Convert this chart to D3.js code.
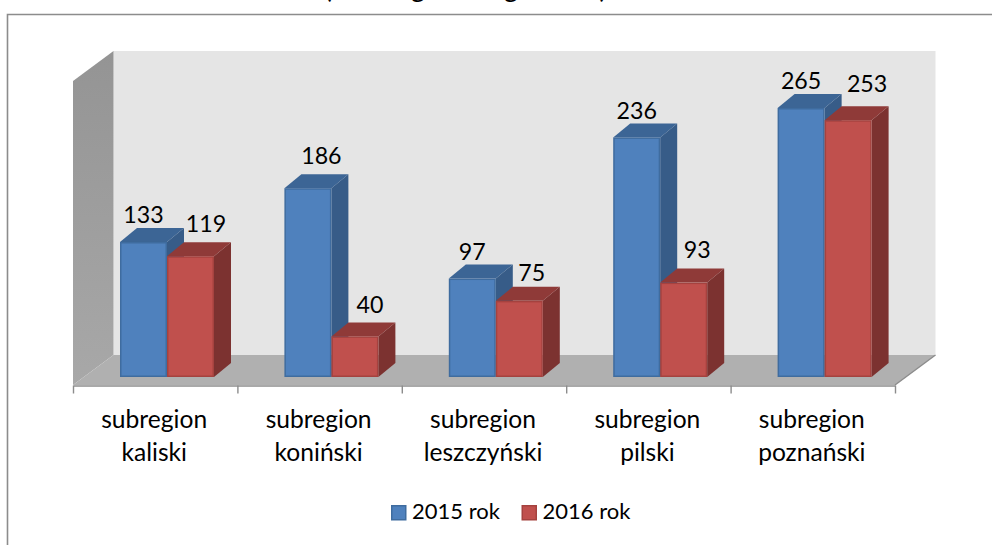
<!DOCTYPE html>
<html><head><meta charset="utf-8">
<script src="https://cdn.jsdelivr.net/npm/d3@7"></script>
<style>html,body{margin:0;padding:0;background:#fff}svg{display:block}text{font-family:Lato,"Open Sans",sans-serif;fill:#000}</style>
</head><body><svg id="c" width="992" height="545"></svg>
<script>
const categories = ["subregion kaliski","subregion koniński","subregion leszczyński","subregion pilski","subregion poznański"];
const seriesNames = ["2015 rok","2016 rok"];
const values2015 = [133,186,97,236,265];
const values2016 = [119,40,75,93,253];
const tickEdges = [0,1,2,3,4,5];

// layout
const W=992,H=545, left=73, right=895, base=377, floorFront=385, depthX=40.5, depthY=30, barDX=17, barDY=14, fs=23.2, catFs=24.6, legFs=22;
const colors={front:["#4f81bd","#c0504d"],top:["#3c6595","#8f3a38"],side:["#375c88","#7c3230"],stroke:["#3f6c9f","#a5423f"]};
const labelDX=[[0,15.5],[13.5,15],[0,12.5],[0,13.5],[0,19]];
const labelUp=[[19,24],[24,23],[19,20],[18,25],[19,28]];

const svg=d3.select("#c");
const x0=d3.scaleBand().domain(categories).range([left,right]);
const x1=d3.scaleBand().domain(seriesNames).range([47,141]);
const y=d3.scaleLinear().domain([0,265]).range([base,108]);
const edge=d3.scaleLinear().domain([0,5]).range([left,right]);
const poly=p=>p.map(d=>d.join(",")).join(" ");

// frame (page cuts the title off at the top)
svg.append("path").attr("d",`M7.5,545V14.5H992`).attr("fill","none").attr("stroke","#8c8c8c").attr("stroke-width",1.6);
[["(",328,-2.5],["g",418,-3.5],["g",511,-3.5],[")",603,-2.5]].forEach(([t,px,py])=>svg.append("text").text(t).attr("x",px).attr("y",py).attr("text-anchor","middle").attr("font-size",27));

// walls
const g0=svg.append("defs").append("linearGradient").attr("id","lw").attr("x1",0).attr("y1",0).attr("x2",0).attr("y2",1);
g0.append("stop").attr("offset",0).attr("stop-color","#949494");
g0.append("stop").attr("offset",1).attr("stop-color","#a8a8a8");
svg.append("rect").attr("x",left+depthX).attr("y",51).attr("width",right-left).attr("height",floorFront-depthY-51).attr("fill","#e5e5e5");
svg.append("polygon").attr("points",poly([[left,81],[left+depthX,51],[left+depthX,floorFront-depthY],[left,floorFront]])).attr("fill","url(#lw)");
svg.append("polygon").attr("points",poly([[left,floorFront],[left+depthX,floorFront-depthY],[right+depthX,floorFront-depthY],[right,floorFront]])).attr("fill","#b0b0b0");
svg.append("path").attr("d",`M${right},${floorFront}L${right+depthX},${floorFront-depthY}`).attr("stroke","#8c8c8c").attr("stroke-width",1.4).attr("fill","none");

// axis
const ax=d3.axisBottom(edge).tickValues(tickEdges).tickFormat("").tickSize(8).tickSizeOuter(0);
const axG=svg.append("g").attr("transform",`translate(0,${floorFront+0.5})`).call(ax);
axG.selectAll("path,line").attr("stroke","#8c8c8c").attr("stroke-width",1.4);

// bars
const series=[values2015,values2016];
categories.forEach((c,i)=>{
  seriesNames.forEach((s,k)=>{
    const v=series[k][i], xa=x0(c)+x1(s), xb=xa+x1.bandwidth(), t=y(v);
    const g=svg.append("g");
    g.append("polygon").attr("points",poly([[xb,t],[xb+barDX,t-barDY],[xb+barDX,base-barDY],[xb,base]])).attr("fill",colors.side[k]);
    g.append("polygon").attr("points",poly([[xa,t],[xa+barDX,t-barDY],[xb+barDX,t-barDY],[xb,t]])).attr("fill",colors.top[k]);
    g.append("rect").attr("x",xa+.75).attr("y",t+.75).attr("width",xb-xa-1.5).attr("height",base-t-1.5).attr("fill",colors.front[k]).attr("stroke",colors.stroke[k]).attr("stroke-width",1.5);
  });
});
// value labels on top
categories.forEach((c,i)=>seriesNames.forEach((s,k)=>{
  const v=series[k][i];
  svg.append("text").text(v).attr("x",x0(c)+x1(s)+x1.bandwidth()/2+labelDX[i][k]).attr("y",y(v)-labelUp[i][k]).attr("text-anchor","middle").attr("font-size",fs);
}));

// category labels
categories.forEach(c=>{
  const [a,b]=c.split(" "), cx=x0(c)+x0.bandwidth()/2-1;
  svg.append("text").text(a).attr("x",cx).attr("y",428).attr("text-anchor","middle").attr("font-size",catFs);
  svg.append("text").text(b).attr("x",cx).attr("y",461).attr("text-anchor","middle").attr("font-size",catFs);
});

// legend
const lx=d3.scaleOrdinal().domain(seriesNames).range([391,521.5]);
seriesNames.forEach((s,k)=>{
  svg.append("rect").attr("x",lx(s)+.75).attr("y",505.75).attr("width",14).attr("height",14).attr("fill",colors.front[k]).attr("stroke",colors.stroke[k]).attr("stroke-width",1.5);
  svg.append("text").text(s).attr("x",lx(s)+21).attr("y",519).attr("font-size",legFs);
});
</script></body></html>
